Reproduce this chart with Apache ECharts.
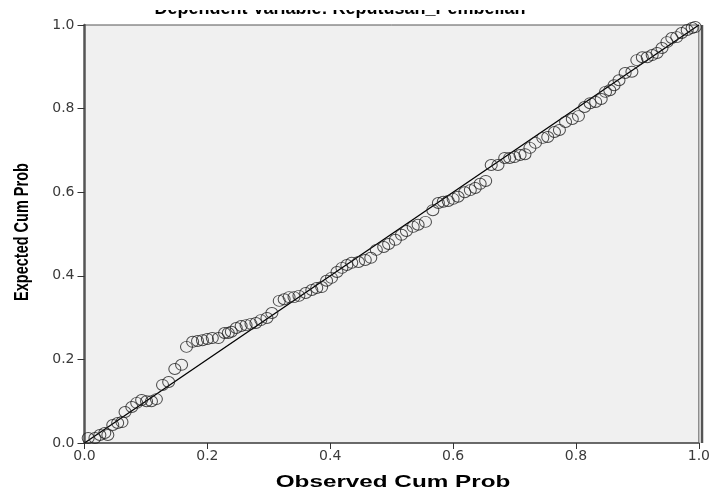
<!DOCTYPE html>
<html>
<head>
<meta charset="utf-8">
<script src="https://cdn.jsdelivr.net/npm/echarts@6/dist/echarts.min.js"></script>
<style>html,body{margin:0;padding:0;background:#fff;}#c{width:713px;height:493px;}</style>
</head>
<body>
<div id="c"></div>
<script>
const titleText = "Dependent Variable: Keputusan_Pembelian";
const xAxisName = "Observed Cum Prob";
const yAxisName = "Expected Cum Prob";
const tickValues = [0, 0.2, 0.4, 0.6, 0.8, 1.0];
const observedCumProb = [0.006,0.017,0.025,0.033,0.038,0.046,0.054,0.061,0.066,0.077,0.085,0.093,0.101,0.109,0.117,0.127,0.137,0.147,0.158,0.166,0.176,0.184,0.192,0.200,0.208,0.218,0.228,0.234,0.239,0.247,0.255,0.263,0.271,0.279,0.287,0.297,0.305,0.317,0.325,0.333,0.341,0.349,0.360,0.370,0.378,0.386,0.394,0.402,0.411,0.419,0.427,0.435,0.446,0.457,0.466,0.475,0.487,0.495,0.506,0.516,0.524,0.535,0.543,0.555,0.567,0.576,0.584,0.592,0.600,0.608,0.619,0.628,0.636,0.644,0.653,0.662,0.673,0.684,0.692,0.700,0.709,0.717,0.725,0.734,0.746,0.754,0.765,0.773,0.783,0.794,0.804,0.814,0.823,0.832,0.841,0.848,0.855,0.862,0.870,0.880,0.891,0.899,0.908,0.916,0.924,0.932,0.940,0.948,0.956,0.964,0.972,0.981,0.989,0.994];
const expectedCumProb = [0.012,0.012,0.019,0.024,0.019,0.043,0.048,0.050,0.074,0.086,0.096,0.103,0.100,0.100,0.105,0.139,0.146,0.177,0.187,0.230,0.242,0.244,0.246,0.249,0.251,0.251,0.263,0.263,0.266,0.275,0.280,0.282,0.285,0.287,0.294,0.299,0.311,0.340,0.344,0.349,0.349,0.352,0.359,0.366,0.371,0.373,0.388,0.395,0.409,0.419,0.426,0.431,0.433,0.438,0.443,0.462,0.469,0.476,0.486,0.498,0.507,0.517,0.522,0.529,0.557,0.574,0.577,0.579,0.584,0.589,0.600,0.605,0.610,0.620,0.627,0.665,0.665,0.682,0.682,0.684,0.689,0.691,0.706,0.718,0.730,0.732,0.744,0.749,0.768,0.775,0.782,0.804,0.813,0.816,0.823,0.840,0.844,0.856,0.868,0.885,0.888,0.916,0.923,0.923,0.928,0.933,0.945,0.959,0.969,0.971,0.981,0.988,0.993,0.995];
const refLine = [[0, 0], [1, 1]];

const points = observedCumProb.map((x, i) => [x, expectedCumProb[i]]);
const chart = echarts.init(document.getElementById('c'), null, {renderer: 'canvas'});
const labelStyle = {color: '#3a3a3a', fontSize: 14, fontFamily: 'DejaVu Sans, sans-serif'};
chart.setOption({
  animation: false,
  backgroundColor: '#fff',
  grid: {left: 84.5, right: 11, top: 25, bottom: 50, show: true, backgroundColor: '#f0f0f0', borderColor: '#555', borderWidth: 1},
  xAxis: {
    type: 'value', min: 0, max: 1, interval: 0.2,
    axisLine: {show: true, lineStyle: {color: '#555', width: 1.5}},
    axisTick: {show: true, length: 6, lineStyle: {color: '#333', width: 1}},
    axisLabel: Object.assign({margin: 6, formatter: v => v.toFixed(1)}, labelStyle),
    splitLine: {show: false}
  },
  yAxis: {
    type: 'value', min: 0, max: 1, interval: 0.2,
    axisLine: {show: true, lineStyle: {color: '#555', width: 2.5}},
    axisTick: {show: true, length: 7, lineStyle: {color: '#333', width: 1}},
    axisLabel: Object.assign({margin: 10, formatter: v => v.toFixed(1)}, labelStyle),
    splitLine: {show: false}
  },
  graphic: [
    {type: 'text', x: 340, y: 18, z: 1, style: {text: titleText, fill: '#000', align: 'center', verticalAlign: 'bottom', font: 'bold 18px Arial, Liberation Sans, sans-serif'}},
    {type: 'rect', shape: {x: 0, y: 0, width: 713, height: 10}, z: 2, style: {fill: '#fff'}},
    {type: 'line', shape: {x1: 702, y1: 25, x2: 702, y2: 443}, z: 3, style: {stroke: '#555', lineWidth: 2.5}},
    {type: 'text', x: 393, y: 482, scaleX: 1.47, z: 3, style: {text: xAxisName, fill: '#000', align: 'center', verticalAlign: 'middle', font: 'bold 16.5px Arial, Liberation Sans, sans-serif'}},
    {type: 'text', x: 22, y: 232, rotation: Math.PI / 2, scaleY: 1.4, z: 3, style: {text: yAxisName, fill: '#000', align: 'center', verticalAlign: 'middle', font: 'bold 14.5px Arial, Liberation Sans, sans-serif'}}
  ],
  series: [
    {type: 'line', data: refLine, symbol: 'none', lineStyle: {color: '#000', width: 1.3}, z: 2, silent: true},
    {type: 'scatter', data: points, symbol: 'circle', symbolSize: [12, 11], itemStyle: {color: 'rgba(0,0,0,0)', borderColor: '#222', borderWidth: 1}, z: 3}
  ]
});
</script>
</body>
</html>
